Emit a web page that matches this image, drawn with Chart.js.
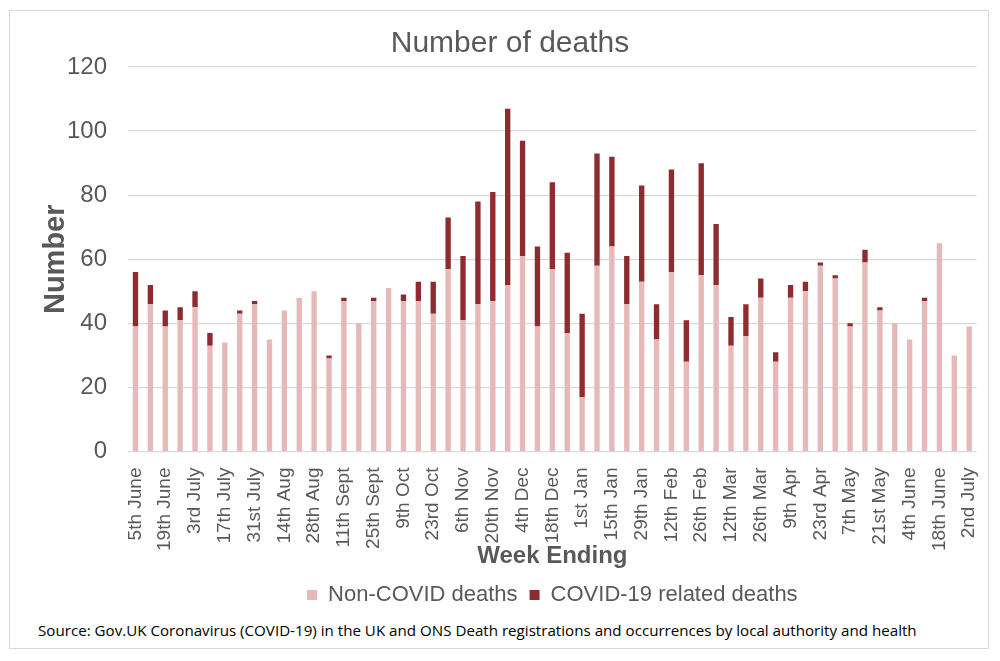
<!DOCTYPE html>
<html lang="en">
<head>
    <meta charset="UTF-8">
    <title>Number of deaths</title>
    <style>
        body {
            margin: 0;
            background: #ffffff;
            font-family: "Liberation Sans", Arial, sans-serif;
            overflow: hidden;
        }
        .frame {
            position: absolute;
            left: 9px;
            top: 10px;
            width: 980px;
            height: 639px;
            box-sizing: border-box;
            border: 1px solid #d9d9d9;
        }
        .chart-box {
            position: absolute;
            left: 10px;
            top: 11px;
            width: 990px;
            height: 607px;
        }
        .source {
            position: absolute;
            left: 38px;
            top: 620px;
            font-family: "Open Sans", "Noto Sans", sans-serif;
            font-size: 15.15px;
            color: #000000;
            white-space: nowrap;
        }
    </style>
    <script src="https://cdn.jsdelivr.net/npm/chart.js"></script>
</head>
<body>
    <div class="frame"></div>
    <div class="chart-box">
        <canvas id="deathsChart"></canvas>
    </div>
    <div class="source">Source: Gov.UK Coronavirus (COVID-19) in the UK and ONS Death registrations and occurrences by local authority and health</div>

    <script>
        // week ending dates, June 2020 to July 2021
        var weeks = [
            '5th June', '12th June', '19th June', '26th June',
            '3rd July', '10th July', '17th July', '24th July', '31st July',
            '7th Aug', '14th Aug', '21st Aug', '28th Aug',
            '4th Sept', '11th Sept', '18th Sept', '25th Sept',
            '2nd Oct', '9th Oct', '16th Oct', '23rd Oct', '30th Oct',
            '6th Nov', '13th Nov', '20th Nov', '27th Nov',
            '4th Dec', '11th Dec', '18th Dec', '25th Dec',
            '1st Jan', '8th Jan', '15th Jan', '22nd Jan', '29th Jan',
            '5th Feb', '12th Feb', '19th Feb', '26th Feb',
            '5th Mar', '12th Mar', '19th Mar', '26th Mar',
            '2nd Apr', '9th Apr', '16th Apr', '23rd Apr', '30th Apr',
            '7th May', '14th May', '21st May', '28th May',
            '4th June', '11th June', '18th June', '25th June',
            '2nd July'
        ];

        var nonCovid = [
            39, 46, 39, 41, 45, 33, 34, 43, 46, 35,
            44, 48, 50, 29, 47, 40, 47, 51, 47, 47,
            43, 57, 41, 46, 47, 52, 61, 39, 57, 37,
            17, 58, 64, 46, 53, 35, 56, 28, 55, 52,
            33, 36, 48, 28, 48, 50, 58, 54, 39, 59,
            44, 40, 35, 47, 65, 30, 39
        ];

        var covid = [
            17, 6, 5, 4, 5, 4, 0, 1, 1, 0,
            0, 0, 0, 1, 1, 0, 1, 0, 2, 6,
            10, 16, 20, 32, 34, 55, 36, 25, 27, 25,
            26, 35, 28, 15, 30, 11, 32, 13, 35, 19,
            9, 10, 6, 3, 4, 3, 1, 1, 1, 4,
            1, 0, 0, 1, 0, 0, 0
        ];

        var yTicks = [0, 20, 40, 60, 80, 100, 120];

        var textGrey = '#595959';

        var ctx = document.getElementById('deathsChart').getContext('2d');
        var deathsChart = new Chart(ctx, {
            type: 'bar',
            data: {
                labels: weeks,
                datasets: [{
                    label: 'Non-COVID deaths',
                    data: nonCovid,
                    backgroundColor: '#e6b9b8',
                    barPercentage: 0.36,
                    categoryPercentage: 1.0
                }, {
                    label: 'COVID-19 related deaths',
                    data: covid,
                    backgroundColor: '#8e2b2f',
                    barPercentage: 0.36,
                    categoryPercentage: 1.0
                }]
            },
            options: {
                responsive: true,
                maintainAspectRatio: false,
                animation: false,
                layout: {
                    padding: { left: 10, right: 0, top: 0, bottom: 2 }
                },
                plugins: {
                    title: {
                        display: true,
                        text: 'Number of deaths',
                        color: textGrey,
                        font: { family: 'Liberation Sans', size: 30, weight: 'normal' },
                        padding: { top: 15, bottom: 5 }
                    },
                    legend: {
                        position: 'bottom',
                        fullSize: false,
                        labels: {
                            color: textGrey,
                            font: { family: 'Liberation Sans', size: 22 },
                            boxWidth: 10,
                            boxHeight: 10,
                            padding: 12
                        }
                    },
                    tooltip: { enabled: false }
                },
                scales: {
                    x: {
                        stacked: true,
                        grid: { display: false },
                        border: { display: false },
                        ticks: {
                            autoSkip: false,
                            minRotation: 90,
                            maxRotation: 90,
                            padding: 8,
                            color: textGrey,
                            font: { family: 'Liberation Sans', size: 19 },
                            callback: function (value, index) {
                                return index % 2 === 0 ? weeks[index] : '';
                            }
                        },
                        title: {
                            display: true,
                            text: 'Week Ending',
                            color: textGrey,
                            font: { family: 'Liberation Sans', size: 24, weight: 'bold', lineHeight: 1 },
                            padding: { top: -15, bottom: 4 }
                        }
                    },
                    y: {
                        stacked: true,
                        min: yTicks[0],
                        max: yTicks[yTicks.length - 1],
                        grid: {
                            color: '#d9d9d9',
                            lineWidth: 1.3,
                            drawTicks: false
                        },
                        border: { display: false },
                        afterBuildTicks: function (axis) {
                            axis.ticks = yTicks.map(function (v) { return { value: v }; });
                        },
                        ticks: {
                            padding: 21,
                            color: textGrey,
                            font: { family: 'Liberation Sans', size: 24 }
                        },
                        title: {
                            display: true,
                            text: 'Number',
                            color: textGrey,
                            font: { family: 'Liberation Sans', size: 29, weight: 'bold', lineHeight: 1 },
                            padding: { top: 21, bottom: -24 }
                        }
                    }
                }
            }
        });
    </script>
</body>
</html>
